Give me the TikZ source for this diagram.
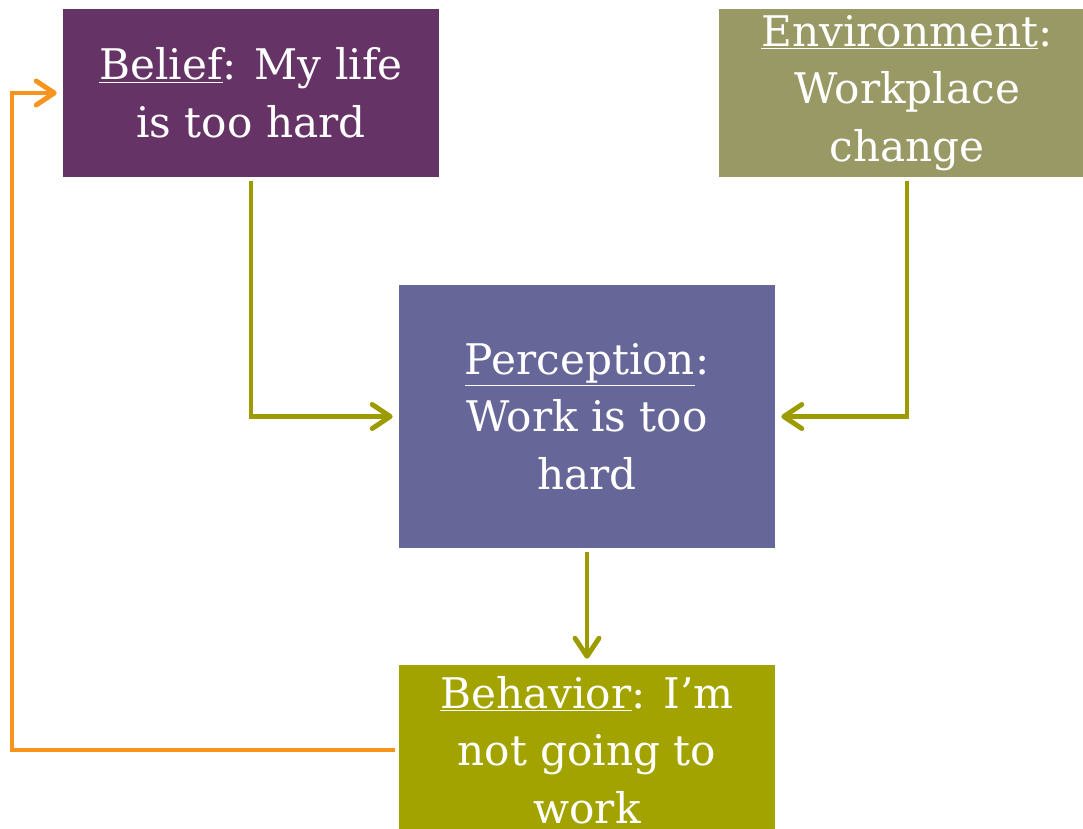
\documentclass[tikz,border=0pt]{standalone}
\usepackage{fontspec}
\setmainfont{DejaVu Serif}
\usetikzlibrary{arrows.meta}

\definecolor{beliefpurple}{HTML}{663366}
\definecolor{envolive}{HTML}{999966}
\definecolor{percblue}{HTML}{666699}
\definecolor{behavolive}{HTML}{A3A300}
\definecolor{linkolive}{HTML}{9C9C00}
\definecolor{looporange}{HTML}{F7941D}

\begin{document}
\begin{tikzpicture}[
    x=0.025cm, y=-0.025cm,
    box/.style={fill=#1, text=white, align=center, inner sep=0pt,
        minimum width=9.4cm, font=\fontsize{30}{41}\selectfont},
    link/.style={draw=linkolive, line width=3.5pt,
        shorten <=0.08cm, shorten >=0.15cm,
        -{Straight Barb[length=4.5mm,width=6mm,round]}},
    feedback/.style={link, draw=looporange}
    ]
    \useasboundingbox (0,0) rectangle (1083,828);

    \node[box=beliefpurple, minimum height=4.2cm] (belief) at (251,93)
        {\underline{Belief}: My life\\is too hard};
    \node[box=envolive, minimum height=4.2cm] (environment) at (907,93)
        {\underline{Environment}:\\Workplace\\change};
    \node[box=percblue, minimum height=6.575cm] (perception) at (587,416.5)
        {\underline{Perception}:\\Work is too\\hard};
    \node[box=behavolive, minimum height=4.25cm] (behavior) at (587,750)
        {\underline{Behavior}: I'm\\not going to\\work};

    \coordinate (loop) at (12,0);

    \draw[link] (belief.south) |- (perception.west);
    \draw[link] (environment.south) |- (perception.east);
    \draw[link] (perception.south) -- (behavior.north);
    % back from behavior to belief round the left side
    \draw[feedback] (behavior.west) -| (loop |- belief.west) -- (belief.west);

\end{tikzpicture}
\end{document}
